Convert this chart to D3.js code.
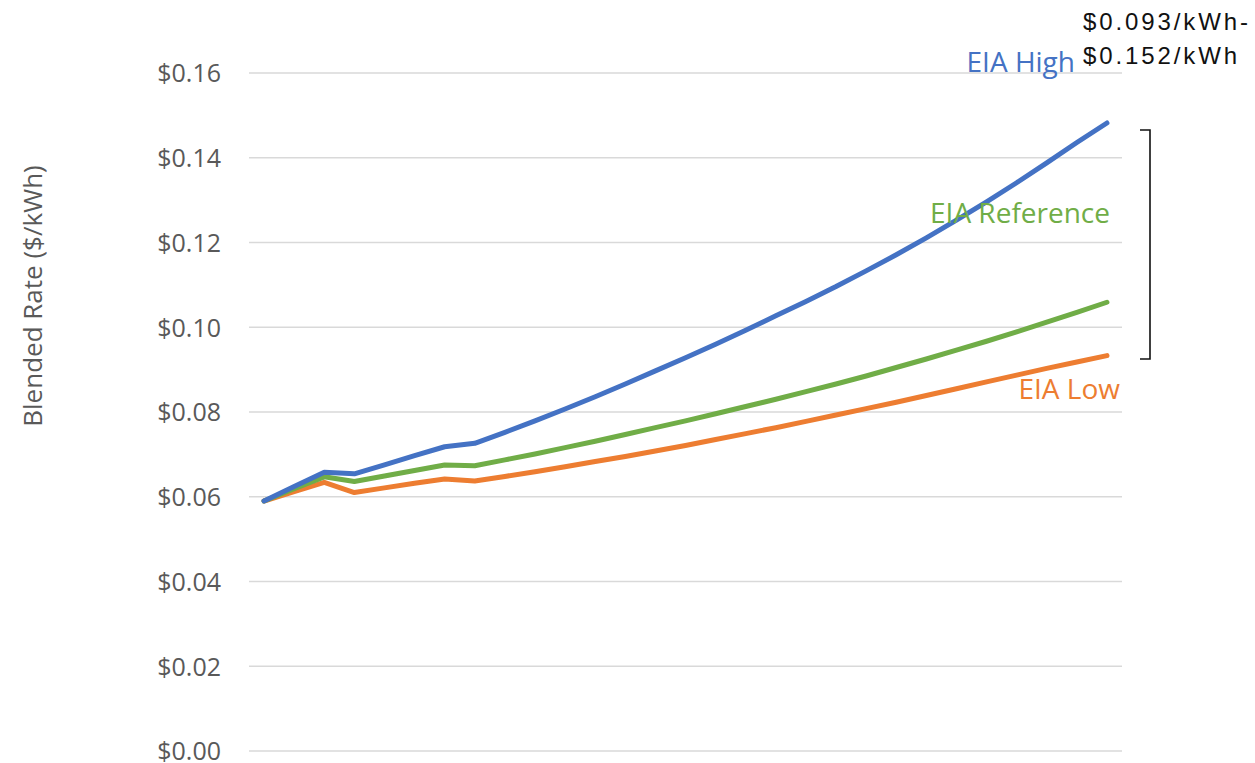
<!DOCTYPE html>
<html>
<head>
<meta charset="utf-8">
<script src="https://cdn.jsdelivr.net/npm/d3@7"></script>
<style>
  body { margin: 0; background: #fff; }
  svg { display: block; }
  .tick-label { font-family: "Open Sans", sans-serif; font-size: 25px; fill: #595959; }
  .axis-title { font-family: "Open Sans", sans-serif; font-size: 26px; fill: #595959; }
  .series-label { font-family: "Open Sans", sans-serif; font-size: 28px; }
  .range-note { font-family: "Liberation Sans", Arial, sans-serif; font-size: 24px; letter-spacing: 2.9px; fill: #111; }
</style>
</head>
<body>
<svg id="my-svg" width="1255" height="763"></svg>
<script>
// categories (no labels shown on the chart)
const years = [2022, 2023, 2024, 2025, 2026, 2027, 2028, 2029, 2030, 2031,
               2032, 2033, 2034, 2035, 2036, 2037, 2038, 2039, 2040, 2041,
               2042, 2043, 2044, 2045, 2046, 2047, 2048, 2049, 2050];

const eiaHigh = [0.0590, 0.0624, 0.0658, 0.0654, 0.0675, 0.0697, 0.0718, 0.0726,
                 0.0752, 0.0779, 0.0807, 0.0836, 0.0866, 0.0897, 0.0928, 0.0960,
                 0.0993, 0.1027, 0.1061, 0.1096, 0.1133, 0.1171, 0.1211, 0.1253,
                 0.1296, 0.1341, 0.1388, 0.1436, 0.1482];

const eiaReference = [0.0590, 0.0619, 0.0647, 0.0636, 0.0649, 0.0662, 0.0675, 0.0673,
                      0.0687, 0.0701, 0.0716, 0.0731, 0.0747, 0.0763, 0.0779, 0.0796,
                      0.0813, 0.0830, 0.0848, 0.0866, 0.0885, 0.0905, 0.0925, 0.0946,
                      0.0967, 0.0989, 0.1012, 0.1035, 0.1059];

const eiaLow = [0.0590, 0.0612, 0.0634, 0.0610, 0.0621, 0.0632, 0.0642, 0.0637,
                0.0648, 0.0659, 0.0671, 0.0683, 0.0695, 0.0708, 0.0721, 0.0735,
                0.0749, 0.0763, 0.0778, 0.0793, 0.0808, 0.0823, 0.0839, 0.0855,
                0.0871, 0.0887, 0.0903, 0.0918, 0.0933];

const yTicks = [0, 0.02, 0.04, 0.06, 0.08, 0.10, 0.12, 0.14, 0.16];

const seriesNames = ['EIA High', 'EIA Reference', 'EIA Low'];
const seriesColors = ['#4472C4', '#70AD47', '#ED7D31'];

const svg = d3.select('svg');

const plot = {left: 249, right: 1122, top: 73, bottom: 751};

const xScale = d3.scalePoint()
                 .domain(years)
                 .range([plot.left, plot.right])
                 .padding(0.5);

const yScale = d3.scaleLinear()
                 .domain([0, 0.16])
                 .range([plot.bottom, plot.top]);

// gridlines
svg.append('g')
   .selectAll('line')
   .data(yTicks)
   .enter()
   .append('line')
   .attr('x1', plot.left)
   .attr('x2', plot.right)
   .attr('y1', (d) => yScale(d))
   .attr('y2', (d) => yScale(d))
   .attr('stroke', '#d9d9d9')
   .attr('stroke-width', 1.3);

// y axis labels
const yAxis = d3.axisLeft(yScale)
                .tickValues(yTicks)
                .tickSize(0)
                .tickPadding(0)
                .tickFormat((d) => '$' + d3.format('.2f')(d));

const yAxisGroup = svg.append('g')
                      .attr('transform', `translate(${plot.left - 28}, 0)`)
                      .call(yAxis);
yAxisGroup.select('.domain').remove();
yAxisGroup.selectAll('text')
          .attr('class', 'tick-label')
          .attr('font-family', null)
          .attr('font-size', null)
          .attr('fill', null)
          .attr('dy', '0.35em');
yAxisGroup.attr('font-family', null).attr('font-size', null);

svg.append('text')
   .attr('class', 'axis-title')
   .attr('transform', `translate(42, 296) rotate(-90)`)
   .attr('text-anchor', 'middle')
   .text('Blended Rate ($/kWh)');

// lines
const allSeries = [eiaHigh, eiaReference, eiaLow];

const line = d3.line()
               .x((d, i) => xScale(years[i]))
               .y((d) => yScale(d));

svg.append('g')
   .selectAll('path')
   .data([eiaLow, eiaReference, eiaHigh])
   .enter()
   .append('path')
   .attr('d', line)
   .attr('fill', 'none')
   .attr('stroke', (d) => seriesColors[allSeries.indexOf(d)])
   .attr('stroke-width', 5)
   .attr('stroke-linecap', 'round')
   .attr('stroke-linejoin', 'round');

// series labels
const labelPos = [
    {x: 1075, y: 72},
    {x: 1110, y: 223},
    {x: 1120, y: 399}
];

svg.append('g')
   .selectAll('text')
   .data(seriesNames)
   .enter()
   .append('text')
   .attr('class', 'series-label')
   .attr('x', (d, i) => labelPos[i].x)
   .attr('y', (d, i) => labelPos[i].y)
   .attr('text-anchor', 'end')
   .attr('fill', (d, i) => seriesColors[i])
   .text((d) => d);

// range bracket
svg.append('path')
   .attr('d', 'M1140,130 H1150 V359 H1140')
   .attr('fill', 'none')
   .attr('stroke', '#111')
   .attr('stroke-width', 1.6);

svg.append('text')
   .attr('class', 'range-note')
   .attr('x', 1083)
   .attr('y', 30)
   .text('$0.093/kWh-');

svg.append('text')
   .attr('class', 'range-note')
   .attr('x', 1083)
   .attr('y', 64)
   .text('$0.152/kWh');
</script>
</body>
</html>
